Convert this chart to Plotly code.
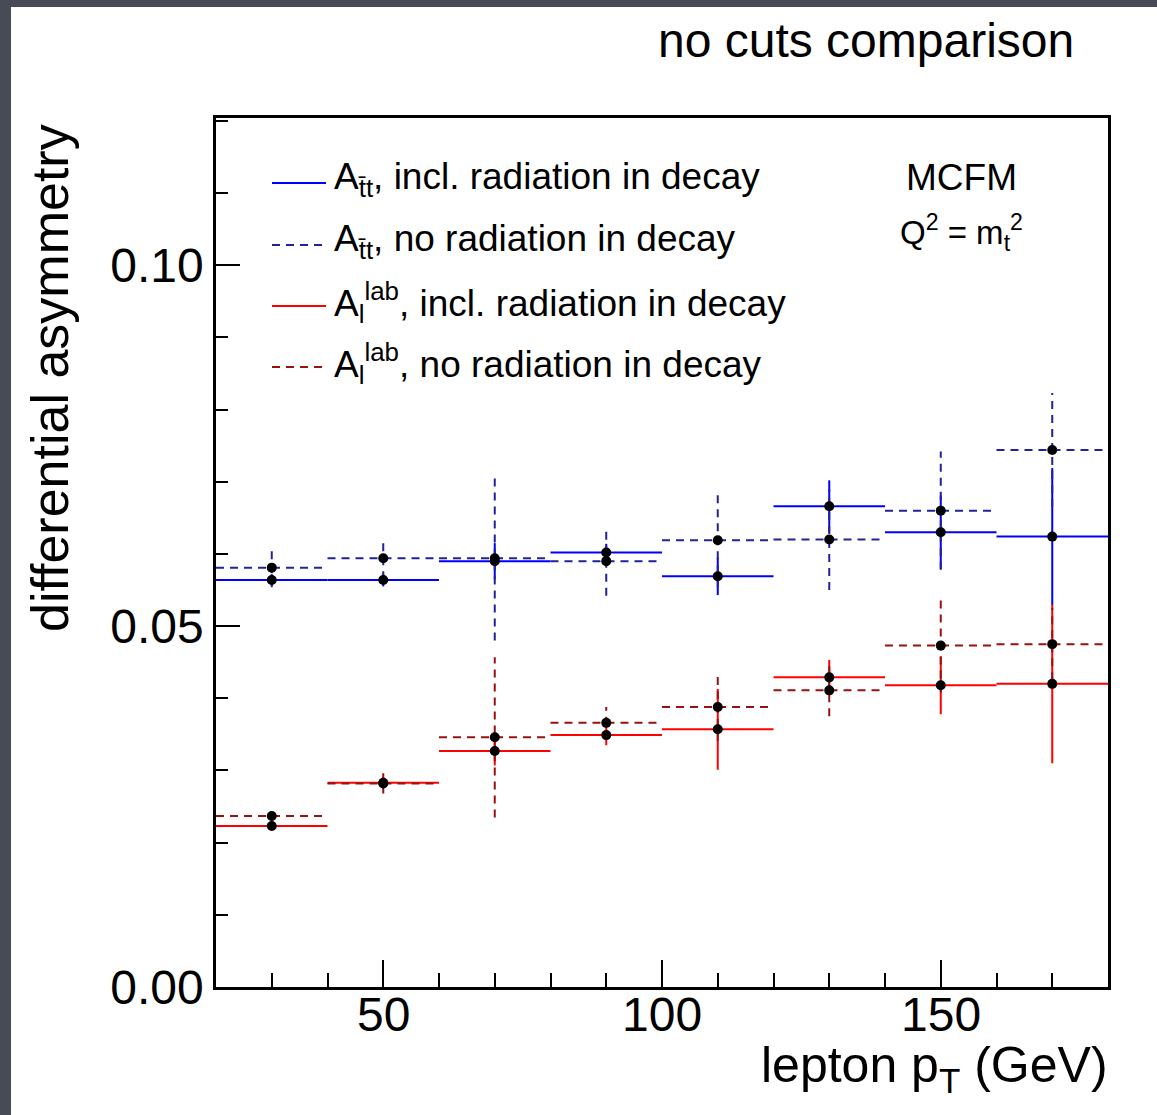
import plotly.graph_objects as go

# ---------------- data ----------------
bin_centers = [30, 50, 70, 90, 110, 130, 150, 170]
bin_half_width = 10

att_incl = [0.0564, 0.0564, 0.0590, 0.0602, 0.0569, 0.0666, 0.0630, 0.0624]
att_incl_err = [0.0008, 0.0009, 0.0025, 0.0012, 0.0026, 0.0036, 0.0051, 0.0095]

att_norad = [0.0581, 0.0594, 0.0594, 0.0590, 0.0619, 0.0620, 0.0660, 0.0744]
att_norad_err = [0.0027, 0.0029, 0.0114, 0.0048, 0.0065, 0.0070, 0.0082, 0.0079]

al_incl = [0.0223, 0.0283, 0.0327, 0.0349, 0.0357, 0.0429, 0.0418, 0.0420]
al_incl_err = [0.0005, 0.0008, 0.0020, 0.0014, 0.0056, 0.0024, 0.0040, 0.0110]

al_norad = [0.0237, 0.0282, 0.0346, 0.0366, 0.0388, 0.0411, 0.0473, 0.0475]
al_norad_err = [0.0008, 0.0014, 0.0111, 0.0022, 0.0047, 0.0036, 0.0065, 0.0050]

series_labels = [
    "A<sub>t\u0304t</sub>, incl. radiation in decay",
    "A<sub>t\u0304t</sub>, no radiation in decay",
    "A<sub>l</sub><sup>lab</sup>, incl. radiation in decay",
    "A<sub>l</sub><sup>lab</sup>, no radiation in decay",
]
x_tick_vals = [50, 100, 150]
x_tick_text = ["50", "100", "150"]
y_tick_vals = [0.0, 0.05, 0.10]
y_tick_text = ["0.00", "0.05", "0.10"]

FONT = "Liberation Sans, Arial, Helvetica, sans-serif"
W, H = 1157, 1115
L, R, T, B = 216, 1108, 118, 987  # plot area in px


def px_x(px):
    return (px - L) / (R - L)


def px_y(py):
    return (B - py) / (B - T)


series = [
    (att_incl, att_incl_err, "#0000ff", "solid"),
    (att_norad, att_norad_err, "#22229a", "8px,6px"),
    (al_incl, al_incl_err, "#ff0000", "solid"),
    (al_norad, al_norad_err, "#9a1010", "8px,6px"),
]

fig = go.Figure()

for vals, errs, color, dash in series:
    xs, ys = [], []
    for c, v, e in zip(bin_centers, vals, errs):
        xs += [c - bin_half_width, c + bin_half_width, None, c, c, None]
        ys += [v, v, None, v - e, v + e, None]
    fig.add_trace(go.Scatter(x=xs, y=ys, mode="lines",
                             line=dict(color=color, width=2, dash=dash),
                             showlegend=False, hoverinfo="skip"))

for vals, errs, color, dash in series:
    fig.add_trace(go.Scatter(x=bin_centers, y=vals, mode="markers",
                             marker=dict(color="black", size=10),
                             showlegend=False))

shapes = []
annotations = []

# dark photo border strips
dark = "#474b56"
shapes.append(dict(type="rect", xref="paper", yref="paper",
                   x0=px_x(0), x1=px_x(11), y0=px_y(H), y1=px_y(0),
                   fillcolor=dark, line=dict(width=0), layer="below"))
shapes.append(dict(type="rect", xref="paper", yref="paper",
                   x0=px_x(0), x1=px_x(W), y0=px_y(7), y1=px_y(0),
                   fillcolor=dark, line=dict(width=0), layer="below"))

# legend
row_y = [183, 245, 306, 367]
for (vals, errs, color, dash), label, ry in zip(series, series_labels, row_y):
    shapes.append(dict(type="line", xref="paper", yref="paper",
                       x0=px_x(272), x1=px_x(326), y0=px_y(ry), y1=px_y(ry),
                       line=dict(color=color, width=2, dash=dash)))
    annotations.append(dict(text=label, xref="paper", yref="paper",
                            x=px_x(332), y=px_y(ry - 4), xanchor="left", yanchor="middle",
                            showarrow=False, font=dict(family=FONT, size=37, color="black")))

# x tick labels
for v, t in zip(x_tick_vals, x_tick_text):
    annotations.append(dict(text=t, xref="x", yref="paper", x=v, y=px_y(1014),
                            xanchor="center", yanchor="middle", showarrow=False,
                            font=dict(family=FONT, size=48, color="black")))

annotations += [
    dict(text="MCFM", xref="paper", yref="paper", x=px_x(961), y=px_y(178),
         xanchor="center", yanchor="middle", showarrow=False,
         font=dict(family=FONT, size=37, color="black")),
    dict(text="Q<sup>2</sup> = m<sub>t</sub><sup>2</sup>", xref="paper", yref="paper",
         x=px_x(961), y=px_y(233), xanchor="center", yanchor="middle", showarrow=False,
         font=dict(family=FONT, size=33, color="black")),
    dict(text="no cuts comparison", xref="paper", yref="paper", x=px_x(1076), y=px_y(40),
         xanchor="right", yanchor="middle", showarrow=False,
         font=dict(family=FONT, size=48, color="black")),
    dict(text="lepton p<sub>T</sub> (GeV)", xref="paper", yref="paper", x=px_x(1110), y=px_y(1068),
         xanchor="right", yanchor="middle", showarrow=False,
         font=dict(family=FONT, size=50, color="black")),
    dict(text="differential asymmetry", xref="paper", yref="paper", x=px_x(50), y=px_y(122),
         xanchor="center", yanchor="top", textangle=-90, showarrow=False,
         font=dict(family=FONT, size=52, color="black")),
]

fig.update_layout(
    width=W, height=H,
    margin=dict(l=L, r=W - R, t=T, b=H - B, pad=0),
    paper_bgcolor="white", plot_bgcolor="white",
    showlegend=False,
    shapes=shapes, annotations=annotations,
    font=dict(family=FONT, color="black"),
)

fig.update_xaxes(range=[20, 180], showgrid=False, zeroline=False,
                 showline=True, linecolor="black", linewidth=2.5, mirror=True,
                 ticks="inside", ticklen=27, tickwidth=2, tickcolor="black",
                 tickvals=x_tick_vals, showticklabels=False,
                 minor=dict(ticks="inside", ticklen=14, tickwidth=1.5, dtick=10,
                            tick0=0, tickcolor="black", showgrid=False))
fig.update_yaxes(range=[0, 0.1204], showgrid=False, zeroline=False,
                 showline=True, linecolor="black", linewidth=2.5, mirror=True,
                 ticks="inside", ticklen=24, tickwidth=2, tickcolor="black",
                 tickvals=y_tick_vals, ticktext=y_tick_text,
                 tickfont=dict(family=FONT, size=48, color="black"),
                 minor=dict(ticks="inside", ticklen=12, tickwidth=1.5, dtick=0.01,
                            tick0=0, tickcolor="black", showgrid=False))

fig.write_html("out.html")
